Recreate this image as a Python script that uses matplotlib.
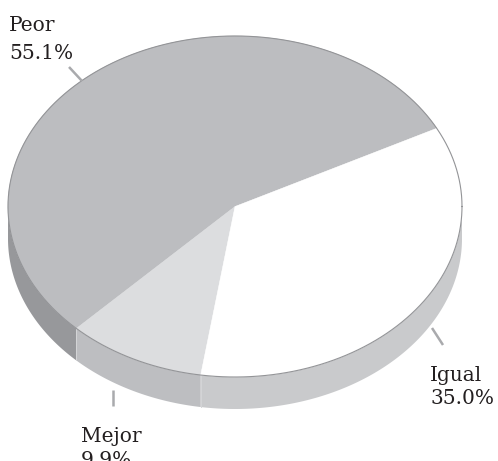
import numpy as np
import matplotlib
matplotlib.use("Agg")
import matplotlib.pyplot as plt
from matplotlib.patches import Polygon

# ---- data ----
categories = ["Peor", "Mejor", "Igual"]
values = [55.1, 9.9, 35.0]
labels = ["55.1%", "9.9%", "35.0%"]

# ---- styles ----
top_colors = ["#bcbdc0", "#dcdddf", "#ffffff"]
side_colors = ["#97989b", "#bdbec1", "#c9cacc"]
edge_color = "#939497"
lead_color = "#a9aaad"

W, H = 498, 461
fig = plt.figure(figsize=(W / 100, H / 100), dpi=100)
ax = fig.add_axes([0, 0, 1, 1])
ax.set_xlim(0, W)
ax.set_ylim(H, 0)
ax.axis("off")

cx, cy, a, b, depth = 235.0, 206.5, 227.0, 170.5, 32.0
start = 27.3

fr = np.array(values) / np.sum(values) * 360.0
bounds = start + np.concatenate([[0], np.cumsum(fr)])


def pt(t, dy=0.0):
    r = np.radians(t)
    return cx + a * np.cos(r), cy - b * np.sin(r) + dy


# sides (front half: 180..360 deg)
for i in range(len(values)):
    t1, t2 = bounds[i], bounds[i + 1]
    for off in (0, 360, -360):
        s1, s2 = max(t1 + off, 180), min(t2 + off, 360)
        if s2 > s1:
            ts = np.linspace(s1, s2, 200)
            top = [pt(t) for t in ts]
            bot = [pt(t, depth) for t in ts[::-1]]
            ax.add_patch(Polygon(top + bot, closed=True, facecolor=side_colors[i],
                                 edgecolor="none", zorder=1))
            for s in (s1, s2):
                if 180 < s < 360:
                    x0, y0 = pt(s)
                    ax.plot([x0, x0], [y0, y0 + depth], color="#d4d5d7", lw=0.6, zorder=1.5)

# top wedges
for i in range(len(values)):
    ts = np.linspace(bounds[i], bounds[i + 1], 300)
    poly = [(cx, cy)] + [pt(t) for t in ts]
    ax.add_patch(Polygon(poly, closed=True, facecolor=top_colors[i],
                         edgecolor=top_colors[i], lw=0.3, zorder=2))

# top outline
ts = np.linspace(0, 360, 600)
ax.plot([pt(t)[0] for t in ts], [pt(t)[1] for t in ts], color=edge_color, lw=0.8, zorder=3)

# leader lines
ax.plot([69, 82], [67, 81], color=lead_color, lw=1.8, zorder=4, solid_capstyle="butt")
ax.plot([432, 443], [328, 345], color=lead_color, lw=1.8, zorder=4, solid_capstyle="butt")
ax.plot([113, 113], [390, 406], color=lead_color, lw=1.8, zorder=4, solid_capstyle="butt")

# labels
font = dict(family="DejaVu Serif", fontsize=14.5, color="#231f20", ha="left",
            va="baseline", fontweight="light")
ax.text(9, 31, categories[0], **font)
ax.text(9, 59, labels[0], **font)
ax.text(430, 381, categories[2], **font)
ax.text(430, 404, labels[2], **font)
ax.text(81, 442, categories[1], **font)
ax.text(81, 466, labels[1], **font)

fig.savefig("out.png", dpi=100)
